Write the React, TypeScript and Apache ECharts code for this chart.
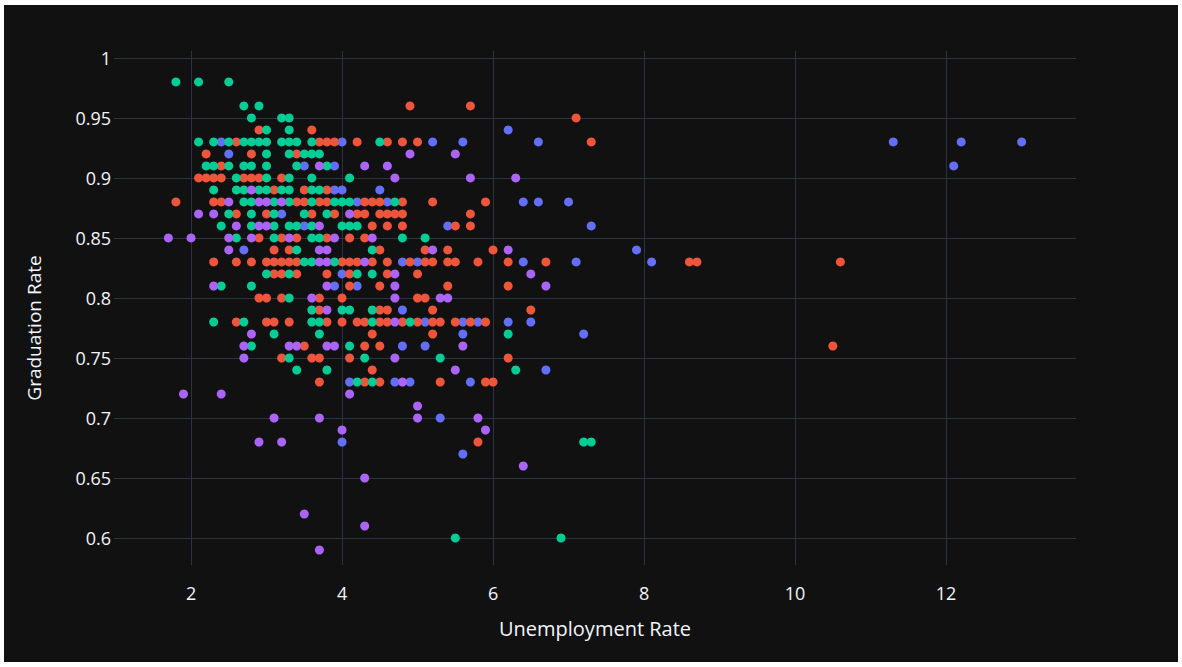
import React, { useEffect, useRef } from "react";
import * as echarts from "echarts";

const xTicks = [2, 4, 6, 8, 10, 12];
const yTicks = [0.6, 0.65, 0.7, 0.75, 0.8, 0.85, 0.9, 0.95, 1];

const seriesNames = ["Group 1", "Group 2", "Group 3", "Group 4"];
const seriesColors = ["#636efa", "#EF553B", "#00cc96", "#ab63fa"];

// [graduation rate, list of unemployment rates]
const blueRows: [number, number[]][] = [
  [0.94, [6.2]],
  [0.93, [2.4, 4.0, 5.2, 5.6, 6.6, 11.3, 12.2, 13.0]],
  [0.92, [2.5]],
  [0.91, [3.5, 3.9, 12.1]],
  [0.89, [3.9, 4.0, 4.5]],
  [0.88, [4.2, 4.6, 6.4, 6.6, 7.0]],
  [0.87, [3.2]],
  [0.86, [3.5, 5.4, 7.3]],
  [0.84, [2.7, 7.9]],
  [0.83, [4.8, 5.0, 6.4, 7.1, 8.1]],
  [0.82, [4.0]],
  [0.81, [3.9, 4.2]],
  [0.79, [4.8]],
  [0.78, [5.1, 5.6, 5.8, 6.2, 6.5]],
  [0.77, [5.6, 7.2]],
  [0.76, [4.8, 5.1]],
  [0.74, [6.7]],
  [0.73, [4.1, 4.7, 4.9, 5.7]],
  [0.7, [5.3]],
  [0.68, [4.0]],
  [0.67, [5.6]],
];

const redRows: [number, number[]][] = [
  [0.96, [4.9, 5.7]],
  [0.95, [7.1]],
  [0.94, [2.9, 3.6]],
  [0.93, [2.6, 3.7, 3.8, 3.9, 4.2, 4.6, 4.8, 5.0, 7.3]],
  [0.92, [2.2, 2.8, 3.4]],
  [0.91, [2.4]],
  [0.9, [2.1, 2.2, 2.3, 2.4, 2.7, 2.8, 2.9, 3.2]],
  [0.89, [3.1, 3.5, 3.8]],
  [0.88, [1.8, 2.3, 2.4, 3.4, 3.5, 3.7, 3.8, 4.3, 4.4, 4.5, 4.8, 5.2, 5.9]],
  [0.87, [2.6, 3.0, 3.6, 3.9, 4.2, 4.3, 4.5, 4.6, 4.7, 4.8, 5.7]],
  [0.86, [4.4, 4.6, 4.8, 5.5, 5.7]],
  [0.85, [2.9, 3.2, 3.4, 3.8, 4.1, 4.3]],
  [0.84, [3.1, 3.3, 4.5, 5.1, 5.4, 6.0]],
  [0.83, [2.3, 2.6, 2.8, 3.0, 3.1, 3.2, 3.3, 3.4, 4.0, 4.1, 4.2, 4.4, 4.6, 4.9, 5.1, 5.2, 5.4, 5.5, 5.8, 6.2, 6.7, 8.6, 8.7, 10.6]],
  [0.82, [3.1, 3.2, 3.4, 3.8, 4.1, 4.6, 5.0]],
  [0.81, [4.1, 4.5, 5.4, 6.2]],
  [0.8, [2.9, 3.0, 3.2, 3.7, 4.0, 5.0, 5.1]],
  [0.79, [3.7, 4.5, 4.6, 5.2, 6.5]],
  [0.78, [2.6, 3.0, 3.1, 3.3, 3.8, 4.0, 4.2, 4.3, 4.5, 4.6, 4.8, 5.0, 5.2, 5.3, 5.5, 5.7, 5.9]],
  [0.77, [4.4, 5.2]],
  [0.76, [3.5, 4.3, 4.5, 10.5]],
  [0.75, [3.2, 3.6, 3.7, 4.1, 6.2]],
  [0.74, [4.4]],
  [0.73, [3.7, 4.3, 4.5, 5.3, 5.9, 6.0]],
  [0.68, [5.8]],
];

const greenRows: [number, number[]][] = [
  [0.98, [1.8, 2.1, 2.5]],
  [0.96, [2.7, 2.9]],
  [0.95, [2.8, 3.2, 3.3]],
  [0.94, [3.0, 3.3]],
  [0.93, [2.1, 2.3, 2.5, 2.7, 2.8, 2.9, 3.0, 3.2, 3.3, 3.4, 3.6, 4.5]],
  [0.92, [3.0, 3.3, 3.5, 3.6, 3.7]],
  [0.91, [2.2, 2.3, 2.5, 2.7, 2.8, 3.0, 3.4, 3.8]],
  [0.9, [2.6, 3.0, 3.3, 3.6, 4.1]],
  [0.89, [2.3, 2.6, 2.7, 2.9, 3.0, 3.2, 3.3, 3.6, 3.7]],
  [0.88, [2.7, 2.8, 3.1, 3.3, 3.6, 3.9, 4.0, 4.1, 4.7]],
  [0.87, [2.5, 2.8, 3.1, 3.5, 3.8]],
  [0.86, [2.4, 2.8, 3.1, 3.3, 3.4, 3.6, 4.0, 4.1, 4.2]],
  [0.85, [2.6, 3.1, 3.6, 3.7, 4.8, 5.1]],
  [0.84, [3.4, 4.4]],
  [0.83, [3.5, 3.6, 3.9]],
  [0.82, [3.0, 3.3, 4.2, 4.4]],
  [0.81, [2.4, 2.8]],
  [0.8, [3.3]],
  [0.79, [3.6, 4.0, 4.1, 4.4]],
  [0.78, [2.3, 2.7, 3.6, 3.7, 4.4, 4.9]],
  [0.77, [3.1, 3.7, 6.2]],
  [0.76, [2.8, 4.1]],
  [0.75, [3.3, 4.3, 5.3]],
  [0.74, [3.4, 3.8, 6.3]],
  [0.73, [4.2, 4.4]],
  [0.68, [7.2, 7.3]],
  [0.6, [5.5, 6.9]],
];

const purpleRows: [number, number[]][] = [
  [0.92, [4.9, 5.5]],
  [0.91, [3.7, 4.3, 4.6]],
  [0.9, [4.7, 5.7, 6.3]],
  [0.89, [2.8]],
  [0.88, [2.5, 2.9, 3.0, 3.2]],
  [0.87, [2.1, 2.3, 4.1]],
  [0.86, [2.6, 2.9, 3.0, 3.7]],
  [0.85, [1.7, 2.0, 2.5, 2.8, 3.3, 3.9, 4.4]],
  [0.84, [2.5, 3.7, 3.8, 5.2, 6.2]],
  [0.83, [3.7, 3.8, 4.3]],
  [0.82, [4.7, 6.5]],
  [0.81, [2.3, 3.8, 4.7, 6.7]],
  [0.8, [3.6, 4.7, 5.3, 5.4]],
  [0.79, [3.8]],
  [0.78, [4.7]],
  [0.77, [2.8]],
  [0.76, [2.7, 3.3, 3.4, 3.8, 3.9, 5.6]],
  [0.75, [2.7, 4.7]],
  [0.74, [5.5]],
  [0.73, [4.8]],
  [0.72, [1.9, 2.4, 4.1]],
  [0.71, [5.0]],
  [0.7, [3.1, 3.7, 5.0, 5.8]],
  [0.69, [4.0, 5.9]],
  [0.68, [2.9, 3.2]],
  [0.66, [6.4]],
  [0.65, [4.3]],
  [0.62, [3.5]],
  [0.61, [4.3]],
  [0.59, [3.7]],
];

const allRows = [blueRows, redRows, greenRows, purpleRows];

function toPoints(rows: [number, number[]][]): number[][] {
  const pts: number[][] = [];
  rows.forEach(([y, xs]) => xs.forEach((x) => pts.push([x, y])));
  return pts;
}

export default function App() {
  const ref = useRef<HTMLDivElement>(null);
  useEffect(() => {
    if (!ref.current) return;
    const chart = echarts.init(ref.current, null, { renderer: "svg" });
    const font = "'Open Sans', 'Noto Sans', sans-serif";
    chart.setOption({
      animation: false,
      backgroundColor: "#111111",
      grid: { left: 110, top: 46, right: 102, bottom: 97, containLabel: false },
      xAxis: {
        type: "value",
        min: 0.98,
        max: 13.72,
        axisLine: { show: false },
        axisTick: { show: false, customValues: xTicks },
        axisLabel: { customValues: xTicks, color: "#f2f5fa", fontSize: 18, fontFamily: font, margin: 19 },
        splitLine: { show: true, lineStyle: { color: "#283442", width: 1 } },
        name: "Unemployment Rate",
        nameLocation: "middle",
        nameGap: 53,
        nameTextStyle: { color: "#f2f5fa", fontSize: 20, fontFamily: font },
      },
      yAxis: {
        type: "value",
        min: 0.5775,
        max: 1.0058,
        axisLine: { show: false },
        axisTick: { show: false, customValues: yTicks },
        axisLabel: { customValues: yTicks, color: "#f2f5fa", fontSize: 18, fontFamily: font, margin: 3 },
        splitLine: { show: true, lineStyle: { color: "#283442", width: 1 } },
      },
      graphic: [
        {
          type: "text",
          x: 30,
          y: 323,
          rotation: Math.PI / 2,
          style: {
            text: "Graduation Rate",
            fill: "#f2f5fa",
            fontSize: 19,
            fontFamily: font,
            align: "center",
            verticalAlign: "middle",
          },
        },
      ],
      series: allRows.map((rows, i) => ({
        name: seriesNames[i],
        type: "scatter",
        symbol: "circle",
        symbolSize: 9,
        itemStyle: { color: seriesColors[i], opacity: 1 },
        data: toPoints(rows),
      })),
    });
    return () => chart.dispose();
  }, []);
  return (
    <div
      ref={ref}
      style={{ position: "fixed", left: 4, top: 5, width: 1174, height: 657 }}
    />
  );
}
